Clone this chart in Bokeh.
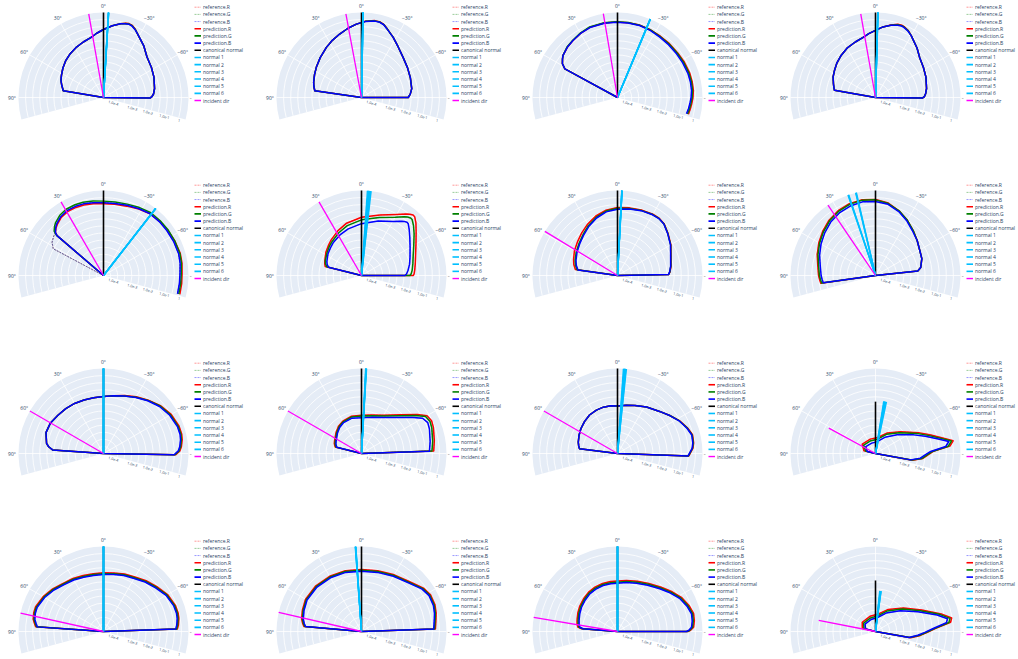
import numpy as np
from bokeh.plotting import figure
from bokeh.embed import file_html
from bokeh.resources import INLINE
from bokeh.core.properties import value

W, H = 1018, 659
R = 85.0                      # outer radius of every polar panel, px
col_x = [103, 361, 617, 875]  # panel centres
row_y = [97, 275, 453, 631]
FONT = value("Open Sans")
TXT = "#2a3f5f"
BG = "#E5ECF6"

angular_ticks = [0, 30, 60, 90, -30, -60, -90]
angular_labels = ["0°", "30°", "60°", "90°", "−30°", "−60°", "−90°"]
radial_ticks = [0.13, 0.36, 0.55, 0.75, 0.93]
radial_labels = ["1.0e-4", "1.0e-3", "1.0e-2", "1.0e-1", "1"]
n_rings = 12

# ---- lobes: angle (deg, 0 = up, positive to the left) and radial position ----
theta_1 = [82, 80.5, 74, 68, 62, 54, 46, 38, 29, 20, 12, 6, 0, -7, -13, -16.5, -19, -21.7, -25, -28, -38, -47, -58, -68, -80, -86, -89, -90.5, -91.5]
pred_b_1 = [0, 0.48, 0.51, 0.54, 0.56, 0.59, 0.62, 0.645, 0.67, 0.695, 0.72, 0.76, 0.80, 0.85, 0.89, 0.905, 0.912, 0.905, 0.88, 0.85, 0.77, 0.70, 0.665, 0.64, 0.61, 0.59, 0.57, 0.55, 0]
pred_g_1 = [0, 0.48, 0.51, 0.54, 0.56, 0.59, 0.62, 0.645, 0.67, 0.695, 0.72, 0.76, 0.80, 0.85, 0.89, 0.908, 0.916, 0.91, 0.884, 0.85, 0.77, 0.70, 0.665, 0.64, 0.61, 0.59, 0.57, 0.55, 0]
pred_r_1 = [0, 0.48, 0.51, 0.54, 0.56, 0.59, 0.62, 0.645, 0.67, 0.695, 0.72, 0.76, 0.80, 0.85, 0.89, 0.912, 0.92, 0.914, 0.886, 0.85, 0.77, 0.70, 0.665, 0.64, 0.61, 0.59, 0.57, 0.55, 0]

theta_2 = [84, 81.8, 77, 72.5, 64, 56, 46, 35, 27, 19, 11, 4, -3, -9.8, -13.7, -17, -20, -27.8, -36, -46, -57, -68, -80, -86, -90, -91]
pred_b_2 = [0, 0.555, 0.575, 0.59, 0.615, 0.64, 0.675, 0.72, 0.755, 0.79, 0.83, 0.865, 0.895, 0.912, 0.91, 0.895, 0.865, 0.80, 0.735, 0.68, 0.645, 0.62, 0.60, 0.575, 0.55, 0]
pred_g_2 = [0, 0.555, 0.575, 0.59, 0.615, 0.64, 0.675, 0.72, 0.755, 0.79, 0.83, 0.865, 0.897, 0.915, 0.913, 0.897, 0.867, 0.80, 0.735, 0.68, 0.645, 0.62, 0.60, 0.575, 0.55, 0]
pred_r_2 = [0, 0.555, 0.575, 0.59, 0.615, 0.64, 0.675, 0.72, 0.755, 0.79, 0.83, 0.865, 0.899, 0.918, 0.916, 0.899, 0.869, 0.80, 0.735, 0.68, 0.645, 0.62, 0.60, 0.575, 0.55, 0]

theta_3 = [62.5, 61.4, 58.5, 55, 52.3, 45, 38, 30, 21.5, 10, 1, -8, -17, -26, -35, -44, -53.5, -62, -71.4, -78, -84.6, -90, -95, -99, -103.3]
pred_b_3 = [0, 0.705, 0.76, 0.79, 0.81, 0.835, 0.85, 0.87, 0.885, 0.888, 0.886, 0.886, 0.886, 0.878, 0.868, 0.864, 0.864, 0.869, 0.876, 0.877, 0.875, 0.866, 0.854, 0.845, 0.834]
pred_g_3 = [0, 0.705, 0.76, 0.79, 0.81, 0.84, 0.855, 0.875, 0.893, 0.894, 0.891, 0.89, 0.89, 0.884, 0.875, 0.874, 0.875, 0.881, 0.888, 0.889, 0.887, 0.878, 0.866, 0.857, 0.846]
pred_r_3 = [0, 0.705, 0.76, 0.79, 0.81, 0.835, 0.85, 0.87, 0.888, 0.89, 0.888, 0.889, 0.891, 0.886, 0.88, 0.88, 0.882, 0.89, 0.897, 0.898, 0.897, 0.888, 0.876, 0.867, 0.857]

theta_4 = [82, 80, 76, 72, 64, 56, 48, 39, 30, 20, 12, 6, 0, -6, -12, -17, -20, -22, -26, -30, -40, -48, -58, -68, -80, -86, -89, -90.5, -91.5]
pred_b_4 = [0, 0.49, 0.505, 0.52, 0.555, 0.58, 0.61, 0.64, 0.67, 0.695, 0.72, 0.755, 0.79, 0.835, 0.87, 0.89, 0.895, 0.89, 0.87, 0.84, 0.76, 0.70, 0.665, 0.64, 0.61, 0.59, 0.575, 0.555, 0]
pred_g_4 = [0, 0.49, 0.505, 0.52, 0.555, 0.58, 0.61, 0.64, 0.67, 0.695, 0.72, 0.755, 0.79, 0.835, 0.87, 0.895, 0.90, 0.895, 0.875, 0.84, 0.76, 0.70, 0.665, 0.64, 0.61, 0.59, 0.575, 0.555, 0]
pred_r_4 = [0, 0.49, 0.505, 0.52, 0.555, 0.58, 0.61, 0.64, 0.67, 0.695, 0.72, 0.755, 0.79, 0.835, 0.872, 0.90, 0.905, 0.90, 0.878, 0.84, 0.76, 0.70, 0.665, 0.64, 0.61, 0.59, 0.575, 0.555, 0]

theta_5 = [50, 49.4, 48.1, 45, 42.1, 36, 29.4, 22, 15.6, 8, 0, -9, -18.4, -28, -37.1, -46, -54.6, -64, -73.9, -81, -88.7, -96, -103.9]
pred_b_5 = [0, 0.72, 0.76, 0.795, 0.82, 0.855, 0.875, 0.878, 0.875, 0.865, 0.855, 0.858, 0.87, 0.89, 0.91, 0.913, 0.914, 0.917, 0.92, 0.913, 0.90, 0.898, 0.897]
pred_g_5 = [0, 0.73, 0.78, 0.815, 0.84, 0.875, 0.895, 0.898, 0.895, 0.885, 0.875, 0.876, 0.885, 0.905, 0.925, 0.928, 0.93, 0.932, 0.935, 0.928, 0.915, 0.913, 0.912]
pred_r_5 = [0, 0.72, 0.76, 0.79, 0.81, 0.845, 0.862, 0.864, 0.86, 0.852, 0.845, 0.848, 0.86, 0.885, 0.91, 0.918, 0.925, 0.932, 0.94, 0.935, 0.925, 0.925, 0.925]
ref_theta_5 = [63, 62, 57.2, 52, 48.1, 45, 42.1, 36, 29.4, 22, 15.6, 8, 0, -9, -18.4, -28, -37.1, -46, -54.6, -64, -73.9, -81, -88.7, -96, -103.9]
ref_r_5 = [0, 0.67, 0.72, 0.745, 0.76, 0.795, 0.82, 0.855, 0.875, 0.878, 0.875, 0.865, 0.855, 0.858, 0.87, 0.89, 0.91, 0.913, 0.914, 0.917, 0.92, 0.913, 0.90, 0.898, 0.897]

theta_6 = [78, 76, 72, 67.8, 57, 48, 40.4, 28, 15.9, 0, -17, -30, -36, -38.2, -40.5, -42.1, -46, -51.6, -60, -69.3, -77, -83.9, -88, -90, -91]
pred_b_6 = [0, 0.40, 0.425, 0.44, 0.47, 0.49, 0.51, 0.54, 0.57, 0.61, 0.67, 0.735, 0.79, 0.81, 0.825, 0.82, 0.78, 0.725, 0.66, 0.61, 0.58, 0.55, 0.53, 0.51, 0]
pred_g_6 = [0, 0.42, 0.445, 0.46, 0.485, 0.51, 0.53, 0.57, 0.61, 0.655, 0.713, 0.79, 0.855, 0.875, 0.89, 0.888, 0.85, 0.79, 0.71, 0.65, 0.62, 0.60, 0.585, 0.57, 0]
pred_r_6 = [0, 0.44, 0.455, 0.466, 0.50, 0.525, 0.55, 0.595, 0.64, 0.686, 0.745, 0.83, 0.895, 0.918, 0.935, 0.933, 0.89, 0.82, 0.74, 0.68, 0.65, 0.63, 0.62, 0.61, 0]

theta_7 = [86, 82, 76, 70, 60, 50, 40, 30, 20, 10, 0, -10, -20, -30, -36, -42, -50, -60, -70, -80, -86, -89, -91]
pred_b_7 = [0, 0.47, 0.50, 0.52, 0.55, 0.58, 0.62, 0.67, 0.72, 0.76, 0.78, 0.795, 0.812, 0.825, 0.828, 0.815, 0.77, 0.72, 0.665, 0.635, 0.615, 0.60, 0]
pred_g_7 = [0, 0.48, 0.51, 0.53, 0.56, 0.59, 0.63, 0.68, 0.73, 0.77, 0.79, 0.80, 0.815, 0.828, 0.83, 0.817, 0.772, 0.722, 0.667, 0.637, 0.617, 0.60, 0]
pred_r_7 = [0, 0.50, 0.53, 0.55, 0.585, 0.615, 0.655, 0.70, 0.745, 0.78, 0.80, 0.808, 0.82, 0.832, 0.834, 0.82, 0.775, 0.725, 0.67, 0.64, 0.62, 0.60, 0]

theta_8 = [100, 98, 94, 90, 80, 70, 60, 50, 40, 30, 20, 10, 0, -10, -20, -30, -40, -50, -60, -70, -80, -84, -86]
pred_b_8 = [0, 0.62, 0.63, 0.64, 0.66, 0.70, 0.74, 0.78, 0.82, 0.85, 0.87, 0.88, 0.87, 0.85, 0.80, 0.74, 0.68, 0.64, 0.60, 0.58, 0.54, 0.50, 0]
pred_g_8 = [0, 0.64, 0.65, 0.66, 0.68, 0.72, 0.76, 0.80, 0.84, 0.87, 0.89, 0.90, 0.89, 0.86, 0.81, 0.75, 0.69, 0.64, 0.60, 0.58, 0.54, 0.50, 0]
pred_r_8 = [0, 0.65, 0.66, 0.67, 0.69, 0.73, 0.77, 0.81, 0.85, 0.88, 0.90, 0.905, 0.895, 0.865, 0.81, 0.75, 0.69, 0.64, 0.60, 0.58, 0.54, 0.50, 0]

theta_9 = [88, 86, 83, 80, 70, 60, 50, 40, 30, 20, 10, 0, -10, -20, -30, -40, -50, -60, -70, -76, -80, -85, -88, -91, -93]
pred_b_9 = [0, 0.60, 0.65, 0.68, 0.72, 0.72, 0.70, 0.69, 0.68, 0.67, 0.665, 0.67, 0.69, 0.72, 0.76, 0.81, 0.86, 0.90, 0.925, 0.928, 0.92, 0.90, 0.88, 0.83, 0]
pred_g_9 = [0, 0.60, 0.65, 0.68, 0.72, 0.72, 0.70, 0.69, 0.68, 0.67, 0.665, 0.67, 0.69, 0.72, 0.765, 0.815, 0.87, 0.91, 0.935, 0.938, 0.93, 0.91, 0.89, 0.84, 0]
pred_r_9 = [0, 0.60, 0.65, 0.68, 0.72, 0.72, 0.70, 0.69, 0.68, 0.67, 0.665, 0.67, 0.69, 0.725, 0.77, 0.82, 0.875, 0.92, 0.945, 0.948, 0.94, 0.92, 0.90, 0.85, 0]

theta_10 = [80, 76, 70, 65, 50, 40, 30, 15, 0, -15, -30, -45, -55, -60, -65, -70, -80, -88, -91]
pred_b_10 = [0, 0.30, 0.32, 0.33, 0.37, 0.40, 0.42, 0.43, 0.42, 0.44, 0.49, 0.60, 0.74, 0.83, 0.86, 0.85, 0.82, 0.80, 0]
pred_g_10 = [0, 0.31, 0.33, 0.34, 0.38, 0.41, 0.43, 0.445, 0.44, 0.46, 0.51, 0.63, 0.78, 0.87, 0.89, 0.88, 0.85, 0.83, 0]
pred_r_10 = [0, 0.32, 0.34, 0.35, 0.39, 0.42, 0.44, 0.455, 0.45, 0.47, 0.52, 0.645, 0.80, 0.89, 0.91, 0.90, 0.87, 0.85, 0]

theta_11 = [86, 83, 79, 74, 65, 56, 46, 36, 26, 17, 8, 0, -10, -20, -32, -45, -54, -62, -70, -76, -82, -86, -92, -100]
pred_b_11 = [0, 0.45, 0.465, 0.48, 0.50, 0.52, 0.54, 0.56, 0.567, 0.57, 0.566, 0.56, 0.575, 0.60, 0.645, 0.70, 0.76, 0.82, 0.87, 0.90, 0.895, 0.88, 0.83, 0]
pred_g_11 = [0, 0.45, 0.465, 0.48, 0.50, 0.52, 0.54, 0.56, 0.567, 0.57, 0.566, 0.56, 0.575, 0.60, 0.645, 0.70, 0.76, 0.822, 0.874, 0.905, 0.90, 0.885, 0.835, 0]
pred_r_11 = [0, 0.45, 0.465, 0.48, 0.50, 0.52, 0.54, 0.56, 0.567, 0.57, 0.566, 0.56, 0.575, 0.60, 0.645, 0.70, 0.76, 0.825, 0.878, 0.91, 0.905, 0.89, 0.84, 0]

theta_12 = [78, 76.5, 55, 20, -8, -30, -49, -64, -71, -76.6, -80.7, -84.3, -87.9, -92, -96, -100.3, -101]
pred_b_12 = [0, 0.10, 0.14, 0.13, 0.14, 0.22, 0.337, 0.50, 0.62, 0.746, 0.874, 0.83, 0.65, 0.58, 0.53, 0.42, 0]
pred_g_12 = [0, 0.12, 0.17, 0.16, 0.17, 0.26, 0.37, 0.54, 0.655, 0.78, 0.905, 0.86, 0.67, 0.60, 0.55, 0.43, 0]
pred_r_12 = [0, 0.14, 0.19, 0.18, 0.19, 0.28, 0.39, 0.56, 0.675, 0.80, 0.925, 0.88, 0.68, 0.61, 0.56, 0.44, 0]

theta_13 = [88, 86, 83, 80, 75, 70, 60, 50, 40, 30, 20, 10, 0, -10, -20, -30, -40, -50, -60, -70, -76, -80, -85, -88, -91]
pred_b_13 = [0, 0.78, 0.80, 0.82, 0.83, 0.83, 0.80, 0.76, 0.72, 0.70, 0.68, 0.67, 0.67, 0.68, 0.70, 0.72, 0.76, 0.80, 0.85, 0.88, 0.885, 0.88, 0.865, 0.85, 0]
pred_g_13 = [0, 0.79, 0.81, 0.83, 0.84, 0.84, 0.81, 0.77, 0.73, 0.71, 0.69, 0.68, 0.68, 0.69, 0.71, 0.73, 0.77, 0.81, 0.86, 0.89, 0.895, 0.89, 0.875, 0.86, 0]
pred_r_13 = [0, 0.80, 0.82, 0.84, 0.85, 0.85, 0.82, 0.78, 0.74, 0.72, 0.70, 0.69, 0.69, 0.70, 0.72, 0.74, 0.78, 0.82, 0.87, 0.90, 0.905, 0.90, 0.885, 0.87, 0]

theta_14 = [88, 85, 82, 78, 70, 60, 45, 30, 15, 0, -15, -30, -45, -55, -62, -70, -76, -80, -88, -91]
pred_b_14 = [0, 0.66, 0.68, 0.70, 0.72, 0.74, 0.74, 0.73, 0.72, 0.71, 0.72, 0.75, 0.80, 0.87, 0.90, 0.90, 0.885, 0.87, 0.85, 0]
pred_g_14 = [0, 0.67, 0.69, 0.71, 0.73, 0.75, 0.75, 0.74, 0.73, 0.72, 0.73, 0.76, 0.81, 0.88, 0.91, 0.91, 0.895, 0.88, 0.86, 0]
pred_r_14 = [0, 0.68, 0.70, 0.72, 0.74, 0.76, 0.76, 0.75, 0.74, 0.73, 0.74, 0.77, 0.82, 0.89, 0.92, 0.92, 0.905, 0.89, 0.87, 0]

theta_15 = [87, 85.5, 83.5, 79, 74, 65, 56, 46, 36.3, 27, 17.3, 8, 0, -10, -21.5, -33, -44.7, -54, -62.3, -70, -76.6, -82, -86.7, -89, -90, -91]
pred_b_15 = [0, 0.405, 0.446, 0.46, 0.47, 0.49, 0.51, 0.53, 0.55, 0.56, 0.567, 0.568, 0.568, 0.585, 0.61, 0.65, 0.707, 0.77, 0.83, 0.87, 0.895, 0.888, 0.872, 0.84, 0.81, 0]
pred_g_15 = [0, 0.415, 0.458, 0.472, 0.482, 0.502, 0.522, 0.542, 0.562, 0.572, 0.579, 0.58, 0.58, 0.597, 0.622, 0.662, 0.72, 0.782, 0.842, 0.882, 0.907, 0.90, 0.884, 0.85, 0.82, 0]
pred_r_15 = [0, 0.43, 0.47, 0.485, 0.495, 0.515, 0.535, 0.555, 0.575, 0.585, 0.592, 0.593, 0.593, 0.61, 0.635, 0.675, 0.732, 0.795, 0.855, 0.895, 0.92, 0.913, 0.897, 0.86, 0.83, 0]

theta_16 = [80, 76, 55, 20, -10, -30, -50, -65, -75, -80, -83, -87, -91, -95, -100, -101]
pred_b_16 = [0, 0.12, 0.15, 0.15, 0.17, 0.25, 0.38, 0.55, 0.75, 0.86, 0.84, 0.68, 0.58, 0.50, 0.40, 0]
pred_g_16 = [0, 0.14, 0.17, 0.17, 0.19, 0.28, 0.41, 0.58, 0.78, 0.89, 0.87, 0.70, 0.60, 0.52, 0.41, 0]
pred_r_16 = [0, 0.16, 0.19, 0.19, 0.21, 0.30, 0.43, 0.60, 0.80, 0.91, 0.89, 0.71, 0.61, 0.53, 0.42, 0]

# ---- direction markers per panel ----
incident_theta = [10, 10.6, 9.6, 10, 30, 30, 58.7, 34, 60, 60, 60, 61.5, 77.5, 77, 80.4, 79]
incident_len = [1, 1, 1, 1, 1, 1, 1, 1, 1, 1, 1, 0.625, 1, 1, 1, 0.68]
canonical_len = [1, 1, 1, 1, 1, 1, 1, 1, 1, 1, 1, 0.61, 1, 1, 1, 0.60]
normals_theta = [
    [-3.3, -3.4, -3.5, -3.4, -3.3, -3.5],
    [-0.9, -1.0, -1.1, -1.0, -0.9, -1.1],
    [-22.6, -22.7, -22.8, -22.7, -22.6, -22.8],
    [-1.5, -1.6, -1.7, -1.6, -1.5, -1.7],
    [-37.8, -37.9, -38.0, -37.9, -37.8, -38.0],
    [-4.0, -4.5, -5.0, -5.5, -6.0, -6.5],
    [-2.9, -3.0, -3.1, -3.0, -2.9, -3.1],
    [13.0, 13.3, 18.6, 18.9, 13.5, 18.4],
    [0.0, 0.1, -0.1, 0.0, 0.1, -0.1],
    [-2.8, -3.0, -3.2, -3.4, -3.0, -3.2],
    [-4.0, -4.4, -4.8, -5.2, -5.6, -6.0],
    [-9.0, -9.5, -10.0, -10.5, -11.0, -12.0],
    [0.0, 0.1, -0.1, 0.0, 0.1, -0.1],
    [3.8, 3.9, 4.0, 4.1, 4.2, 4.0],
    [0.0, 0.1, -0.1, 0.0, 0.1, -0.1],
    [-6.0, -6.4, -6.8, -7.2, -7.6, -8.0],
]
normals_len = [1, 1, 1, 1, 1, 1, 1, 1, 1, 1, 1, 0.62, 1, 1, 1, 0.48]

thetas = [theta_1, theta_2, theta_3, theta_4, theta_5, theta_6, theta_7, theta_8,
          theta_9, theta_10, theta_11, theta_12, theta_13, theta_14, theta_15, theta_16]
preds_r = [pred_r_1, pred_r_2, pred_r_3, pred_r_4, pred_r_5, pred_r_6, pred_r_7, pred_r_8,
           pred_r_9, pred_r_10, pred_r_11, pred_r_12, pred_r_13, pred_r_14, pred_r_15, pred_r_16]
preds_g = [pred_g_1, pred_g_2, pred_g_3, pred_g_4, pred_g_5, pred_g_6, pred_g_7, pred_g_8,
           pred_g_9, pred_g_10, pred_g_11, pred_g_12, pred_g_13, pred_g_14, pred_g_15, pred_g_16]
preds_b = [pred_b_1, pred_b_2, pred_b_3, pred_b_4, pred_b_5, pred_b_6, pred_b_7, pred_b_8,
           pred_b_9, pred_b_10, pred_b_11, pred_b_12, pred_b_13, pred_b_14, pred_b_15, pred_b_16]

legend_items = [
    ("reference.R", "red", "2 1", 0.9, 0.45),
    ("reference.G", "green", "2 1", 0.9, 0.45),
    ("reference.B", "blue", "2 1", 0.9, 0.45),
    ("prediction.R", "red", "solid", 1.6, 1.0),
    ("prediction.G", "green", "solid", 1.6, 1.0),
    ("prediction.B", "blue", "solid", 1.6, 1.0),
    ("canonical normal", "black", "solid", 1.6, 1.0),
    ("normal 1", "deepskyblue", "solid", 1.6, 1.0),
    ("normal 2", "deepskyblue", "solid", 1.6, 1.0),
    ("normal 3", "deepskyblue", "solid", 1.6, 1.0),
    ("normal 4", "deepskyblue", "solid", 1.6, 1.0),
    ("normal 5", "deepskyblue", "solid", 1.6, 1.0),
    ("normal 6", "deepskyblue", "solid", 1.6, 1.0),
    ("incident dir", "magenta", "solid", 1.4, 1.0),
]

p = figure(width=W, height=H, x_range=(0, W), y_range=(0, H),
           output_backend="svg", toolbar_location=None, min_border=0)
p.axis.visible = False
p.grid.visible = False
p.outline_line_color = None
p.background_fill_color = "white"
p.border_fill_color = "white"


def to_xy(cx, cy, theta, r):
    phi = np.radians(90.0 + np.asarray(theta, dtype=float))
    rr = R * np.asarray(r, dtype=float)
    return cx + rr * np.cos(phi), (H - cy) + rr * np.sin(phi)


sector_start, sector_end = np.radians(-15), np.radians(195)

for k in range(16):
    cx = col_x[k % 4]
    cy = row_y[k // 4]
    yc = H - cy

    # polar background, rings and spokes
    p.wedge(x=[cx], y=[yc], radius=R, start_angle=sector_start, end_angle=sector_end,
            fill_color=BG, line_color=None)
    rings = [R * i / n_rings for i in range(1, n_rings)]
    p.arc(x=[cx] * len(rings), y=[yc] * len(rings), radius=rings,
          start_angle=sector_start, end_angle=sector_end, line_color="white", line_width=0.8)
    sx, sy = to_xy(cx, cy, angular_ticks, [1.0] * len(angular_ticks))
    p.segment(x0=[cx] * len(sx), y0=[yc] * len(sy), x1=sx, y1=sy, line_color="white", line_width=0.8)

    # angular tick labels
    lx, ly = to_xy(cx, cy, angular_ticks, [(R + 6.5) / R] * len(angular_ticks))
    p.text(x=lx, y=ly, text=angular_labels, text_font=FONT, text_font_size="5px",
           text_color=TXT, text_align="center", text_baseline="middle")

    # radial tick labels along the lower-right edge of the sector
    ang = np.radians(-15)
    dist = np.array(radial_ticks) * R
    rx = cx + dist * np.cos(ang) + 1.2 * np.sin(ang)
    ry = yc + dist * np.sin(ang) - 1.2 * np.cos(ang)
    p.text(x=rx, y=ry, text=radial_labels, angle=ang, text_font=FONT, text_font_size="3.6px",
           text_color=TXT, text_align="center", text_baseline="top")

    # reference curves (dashed, drawn first)
    if k == 4:
        ref_sets = [(ref_theta_5, ref_r_5)] * 3
    else:
        ref_sets = [(thetas[k], preds_r[k]), (thetas[k], preds_g[k]), (thetas[k], preds_b[k])]
    for (th, rv), col in zip(ref_sets, ["red", "green", "blue"]):
        x, y = to_xy(cx, cy, th, rv)
        p.line(x, y, line_color=col, line_width=0.8, line_dash="2 1", line_alpha=0.45)

    # prediction curves
    for rv, col in zip([preds_r[k], preds_g[k], preds_b[k]], ["red", "green", "blue"]):
        x, y = to_xy(cx, cy, thetas[k], rv)
        p.line(x, y, line_color=col, line_width=1.5, line_join="round")

    # canonical normal
    x, y = to_xy(cx, cy, [0, 0], [0, canonical_len[k]])
    p.line(x, y, line_color="black", line_width=1.6)

    # per-vertex normals
    for t in normals_theta[k]:
        x, y = to_xy(cx, cy, [t, t], [0, normals_len[k]])
        p.line(x, y, line_color="deepskyblue", line_width=1.4)

    # incident direction
    x, y = to_xy(cx, cy, [incident_theta[k]] * 2, [0, incident_len[k]])
    p.line(x, y, line_color="magenta", line_width=1.3)

    # legend box
    p.quad(left=cx + 88, right=cx + 156, bottom=H - (cy + 5), top=H - (cy - 94),
           fill_color="white", line_color=None)
    for i, (lab, col, dash, lw, alpha) in enumerate(legend_items):
        yy = H - (cy - 90.3 + i * 7.18)
        p.segment(x0=[cx + 91], x1=[cx + 97.5], y0=[yy], y1=[yy], line_color=col,
                  line_width=lw, line_dash=dash, line_alpha=alpha)
    ys = [H - (cy - 90.3 + i * 7.18) for i in range(len(legend_items))]
    p.text(x=[cx + 99.5] * len(ys), y=ys, text=[it[0] for it in legend_items],
           text_font=FONT, text_font_size="5px", text_color=TXT,
           text_align="left", text_baseline="middle")

open("out.html", "w").write(file_html(p, INLINE))
